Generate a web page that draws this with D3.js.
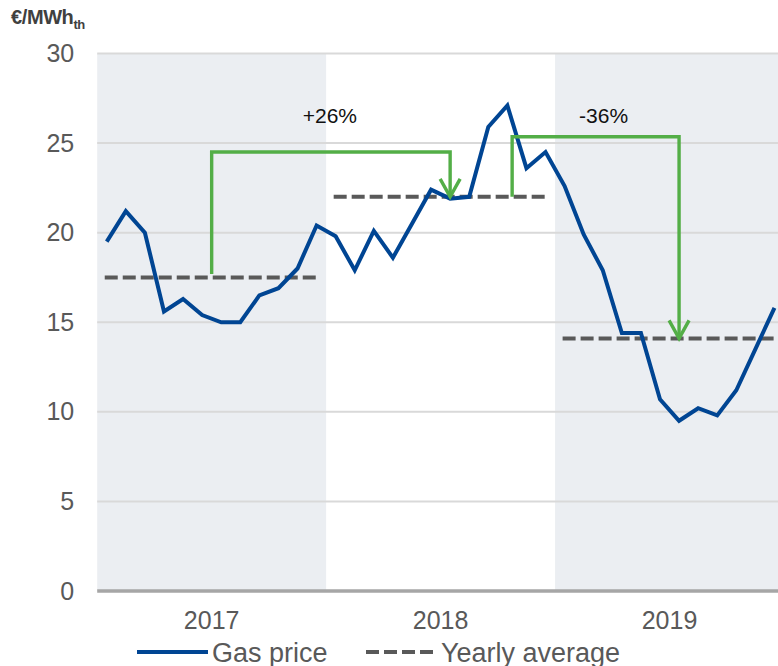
<!DOCTYPE html>
<html>
<head>
<meta charset="utf-8">
<script src="https://cdn.jsdelivr.net/npm/d3@7"></script>
<style>
  html, body { margin: 0; padding: 0; background: #fff; }
  svg { display: block; font-family: "Liberation Sans", Arial, sans-serif; }
</style>
</head>
<body>
<svg id="chart" width="778" height="666"></svg>
<script>
// categories
const years = ["2017", "2018", "2019"];
const monthNames = ["Jan", "Feb", "Mar", "Apr", "May", "Jun", "Jul", "Aug", "Sep", "Oct", "Nov", "Dec"];

// monthly gas price, €/MWh_th
const gas2017 = [19.5, 21.2, 20.0, 15.6, 16.3, 15.4, 15.0, 15.0, 16.5, 16.9, 18.0, 20.4];
const gas2018 = [19.8, 17.9, 20.1, 18.6, 20.5, 22.4, 21.9, 22.0, 25.9, 27.1, 23.6, 24.5];
const gas2019 = [22.6, 19.9, 17.9, 14.4, 14.4, 10.7, 9.5, 10.2, 9.8, 11.2, 13.5, 15.8];

// yearly averages
const yearlyAvg = [17.5, 22.0, 14.1];

// shaded years
const shadedYears = ["2017", "2019"];

// y ticks
const yTicks = [0, 5, 10, 15, 20, 25, 30];

// change annotations (x in month index, y in €/MWh)
const changeLabels = ["+26%", "-36%"];
const changeFrom = [{ x: 5.5, y: 17.7 }, { x: 21.25, y: 22.0 }];
const changeTop = [24.5, 25.35];
const changeTo = [{ x: 18, y: 22.0 }, { x: 30, y: 14.1 }];

const legendLabels = ["Gas price", "Yearly average"];

const width = 778, height = 666;
const plotLeft = 97.2, plotRight = 784;

const months = [];
years.forEach(yr => monthNames.forEach(m => months.push(yr + "-" + m)));
const gas = [...gas2017, ...gas2018, ...gas2019];
const series = months.map((m, i) => ({ month: m, value: gas[i] }));

const svg = d3.select("#chart");

const x = d3.scaleBand()
  .domain(months)
  .range([plotLeft, plotRight])
  .padding(0);
const bw = x.bandwidth();
const cx = m => x(m) + bw / 2;
const cxi = i => x(months[0]) + bw * (i + 0.5);

const y = d3.scaleLinear()
  .domain([0, 30])
  .range([591, 53.5]);

// shaded year backgrounds
svg.append("g")
  .selectAll("rect")
  .data(shadedYears)
  .enter()
  .append("rect")
  .attr("x", d => x(d + "-Jan"))
  .attr("y", y(30))
  .attr("width", bw * 12)
  .attr("height", y(0) - y(30))
  .attr("fill", "#ebeef2");

// gridlines
svg.append("g")
  .selectAll("line")
  .data(yTicks.filter(t => t > 0))
  .enter()
  .append("line")
  .attr("x1", plotLeft)
  .attr("x2", width)
  .attr("y1", d => y(d))
  .attr("y2", d => y(d))
  .attr("stroke", "#d9d9d9")
  .attr("stroke-width", 2);

// y axis labels
const yAxis = svg.append("g")
  .attr("transform", "translate(" + (plotLeft - 23) + ",0)")
  .call(d3.axisLeft(y).tickValues(yTicks).tickSize(0).tickPadding(0));
yAxis.select(".domain").remove();
yAxis.selectAll("text")
  .attr("fill", "#595959")
  .style("font-size", "25px")
  .style("font-family", "'Liberation Sans', Arial, sans-serif");

// x axis (baseline)
svg.append("line")
  .attr("x1", plotLeft)
  .attr("x2", width)
  .attr("y1", y(0))
  .attr("y2", y(0))
  .attr("stroke", "#a6a6a6")
  .attr("stroke-width", 3.5);

// year labels
svg.append("g")
  .selectAll("text")
  .data(years)
  .enter()
  .append("text")
  .attr("x", d => x(d + "-Jan") + bw * 6)
  .attr("y", 629)
  .attr("text-anchor", "middle")
  .attr("fill", "#595959")
  .style("font-size", "25px")
  .text(d => d);

// yearly average dashed lines
svg.append("g")
  .selectAll("line")
  .data(years.map((yr, i) => ({ year: yr, value: yearlyAvg[i] })))
  .enter()
  .append("line")
  .attr("x1", d => cx(d.year + "-Jan") - 2)
  .attr("x2", d => cx(d.year + "-Dec") + 2)
  .attr("y1", d => y(d.value))
  .attr("y2", d => y(d.value))
  .attr("stroke", "#595959")
  .attr("stroke-width", 4)
  .attr("stroke-dasharray", "13,5");

// gas price line
svg.append("path")
  .datum(series)
  .attr("fill", "none")
  .attr("stroke", "#004593")
  .attr("stroke-width", 4)
  .attr("stroke-linejoin", "miter")
  .attr("d", d3.line().x(d => cx(d.month)).y(d => y(d.value)));

// change arrows
const arrows = svg.append("g");
changeLabels.forEach((label, i) => {
  const x0 = cxi(changeFrom[i].x), x1 = cxi(changeTo[i].x);
  const yTop = y(changeTop[i]), yTip = y(changeTo[i].y);
  arrows.append("path")
    .attr("fill", "none")
    .attr("stroke", "#53ae47")
    .attr("stroke-width", 3.4)
    .attr("d", "M" + x0 + "," + y(changeFrom[i].y) + "V" + yTop + "H" + x1 + "V" + yTip);
  arrows.append("path")
    .attr("fill", "none")
    .attr("stroke", "#53ae47")
    .attr("stroke-width", 3.4)
    .attr("d", "M" + (x1 - 10) + "," + (yTip - 18) + "L" + x1 + "," + yTip + "L" + (x1 + 10) + "," + (yTip - 18));
  arrows.append("text")
    .attr("x", i === 0 ? (x0 + x1) / 2 - 1 : (x0 + x1) / 2 + 8)
    .attr("y", 122.5)
    .attr("text-anchor", "middle")
    .attr("fill", "#111")
    .style("font-size", "21px")
    .text(label);
});

// unit title
const title = svg.append("text")
  .attr("x", 11)
  .attr("y", 24)
  .attr("fill", "#404040")
  .style("font-weight", "bold")
  .style("font-size", "20px")
  .style("letter-spacing", "-0.4px");
title.append("tspan").text("€/MWh");
title.append("tspan")
  .attr("dy", 5)
  .style("font-size", "13px")
  .text("th");

// legend
const legend = svg.append("g");
legend.append("line")
  .attr("x1", 137).attr("x2", 208)
  .attr("y1", 652).attr("y2", 652)
  .attr("stroke", "#004593")
  .attr("stroke-width", 4);
legend.append("text")
  .attr("x", 212).attr("y", 661.5)
  .attr("fill", "#595959")
  .style("font-size", "27px")
  .text(legendLabels[0]);
legend.append("line")
  .attr("x1", 366).attr("x2", 437)
  .attr("y1", 652).attr("y2", 652)
  .attr("stroke", "#595959")
  .attr("stroke-width", 4)
  .attr("stroke-dasharray", "13,5");
legend.append("text")
  .attr("x", 441).attr("y", 661.5)
  .attr("fill", "#595959")
  .style("font-size", "27px")
  .text(legendLabels[1]);
</script>
</body>
</html>
